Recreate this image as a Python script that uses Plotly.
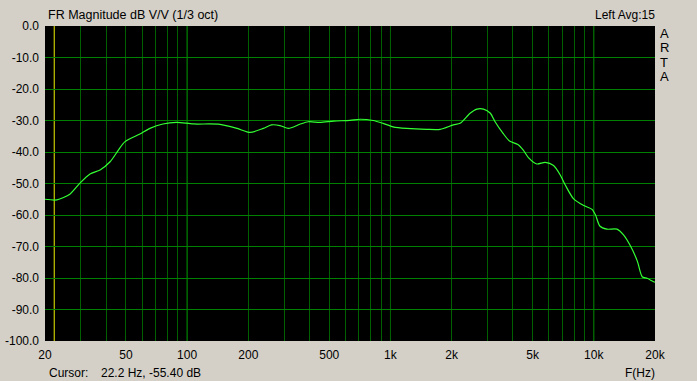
import plotly.graph_objects as go

# ---- data ----
freq_hz = [20, 22.9, 26.5, 29.7, 33.3, 37.3, 41.8, 45.9, 49.5, 58.6, 65.6, 76, 88.8,
           107, 145, 176, 204, 237, 260, 286, 315, 358, 394, 450, 525, 632, 710, 822,
           920, 1030, 1200, 1506, 1757, 2038, 2200, 2464, 2660, 2870, 3100, 3270, 3580,
           3850, 4230, 4500, 4770, 5240, 5770, 6340, 6840, 7240, 7960, 8920, 9800,
           10200, 10700, 11600, 13000, 14000, 15200, 16400, 17300, 18300, 19700, 20000]
mag_db = [-55.0, -55.2, -53.4, -49.9, -47.0, -45.7, -43.1, -39.4, -36.7, -34.3, -32.5,
          -31.1, -30.6, -31.1, -31.2, -32.5, -33.8, -32.5, -31.4, -31.6, -32.5, -31.2,
          -30.4, -30.6, -30.2, -29.95, -29.6, -30.0, -30.9, -32.0, -32.5, -32.8, -32.8,
          -31.4, -30.9, -27.7, -26.4, -26.4, -27.7, -30.4, -34.1, -36.5, -37.6, -39.4,
          -41.8, -43.8, -43.3, -44.3, -47.3, -50.5, -54.9, -57.0, -58.2, -60.0, -63.5,
          -64.5, -64.5, -66.3, -70.0, -74.8, -79.6, -80.1, -81.2, -81.3]

x_label_vals = [20, 50, 100, 200, 500, 1000, 2000, 5000, 10000, 20000]
x_label_text = ["20", "50", "100", "200", "500", "1k", "2k", "5k", "10k", "20k"]
x_grid_vals = sorted(set([m * d for d in (10, 100, 1000) for m in range(2, 10)]
                         + [100, 1000, 10000, 20000]))
decade_lines = [100, 1000, 10000]

y_tick_vals = [0, -10, -20, -30, -40, -50, -60, -70, -80, -90, -100]
y_tick_text = ["0.0", "-10.0", "-20.0", "-30.0", "-40.0", "-50.0", "-60.0", "-70.0",
               "-80.0", "-90.0", "-100.0"]

cursor_hz = 22.2
title_text = "FR Magnitude dB V/V (1/3 oct)"
right_text = "Left Avg:15"
side_letters = ["A", "R", "T", "A"]
cursor_label = "Cursor:"
cursor_value = "22.2 Hz, -55.40 dB"
x_unit = "F(Hz)"

W, H = 697, 381
L, R, T, B = 45, 42, 26, 40
pw, ph = W - L - R, H - T - B

def px_x(p):
    return (p - L) / pw

def px_y(p):
    return (H - B - p) / ph

FONT = "Liberation Sans, Arial, sans-serif"
BG = "#D4D0C8"

fig = go.Figure()
fig.add_trace(go.Scatter(x=freq_hz, y=mag_db, mode="lines",
                         line=dict(color="#33FF33", width=1.2, shape="spline", smoothing=0.7),
                         hoverinfo="skip", showlegend=False))

ticktext_all = [x_label_text[x_label_vals.index(v)] if v in x_label_vals else ""
                for v in x_grid_vals]

shapes = []
for d in decade_lines:
    shapes.append(dict(type="line", xref="x", yref="paper", x0=d, x1=d, y0=0, y1=1,
                       line=dict(color="#00A000", width=1), layer="below"))
shapes.append(dict(type="line", xref="x", yref="paper", x0=cursor_hz, x1=cursor_hz, y0=0, y1=1,
                   line=dict(color="#F0F000", width=1), layer="below"))

annotations = [
    dict(text=title_text, xref="paper", yref="paper", x=px_x(46), y=px_y(15),
         xanchor="left", yanchor="middle", showarrow=False, font=dict(size=12.5)),
    dict(text=right_text, xref="paper", yref="paper", x=px_x(657), y=px_y(15),
         xanchor="right", yanchor="middle", showarrow=False),
    dict(text=cursor_label, xref="paper", yref="paper", x=px_x(47), y=px_y(373),
         xanchor="left", yanchor="middle", showarrow=False),
    dict(text=cursor_value, xref="paper", yref="paper", x=px_x(99), y=px_y(373),
         xanchor="left", yanchor="middle", showarrow=False),
    dict(text=x_unit, xref="paper", yref="paper", x=px_x(657), y=px_y(373),
         xanchor="right", yanchor="middle", showarrow=False),
]
for i, letter in enumerate(side_letters):
    annotations.append(dict(text=letter, xref="paper", yref="paper", x=px_x(664),
                            y=px_y(33.5 + i * 14.3), xanchor="center", yanchor="middle",
                            showarrow=False, font=dict(size=13)))

fig.update_layout(
    width=W, height=H,
    margin=dict(l=L, r=R, t=T, b=B, pad=0, autoexpand=False),
    paper_bgcolor=BG, plot_bgcolor="black",
    font=dict(family=FONT, size=12, color="black"),
    shapes=shapes, annotations=annotations,
    xaxis=dict(type="log", range=[1.30103, 4.30103], tickvals=x_grid_vals, ticktext=ticktext_all,
               showgrid=True, gridcolor="#006000", gridwidth=1, zeroline=False,
               showline=False, ticks="", tickfont=dict(size=12), ticklabelstandoff=5,
               automargin=False),
    yaxis=dict(range=[-100, 0], tickvals=y_tick_vals, ticktext=y_tick_text,
               showgrid=True, gridcolor="#008000", gridwidth=1, zeroline=False,
               showline=False, ticks="", tickfont=dict(size=12), ticklabelstandoff=5,
               automargin=False),
)

fig.write_html("out.html")
